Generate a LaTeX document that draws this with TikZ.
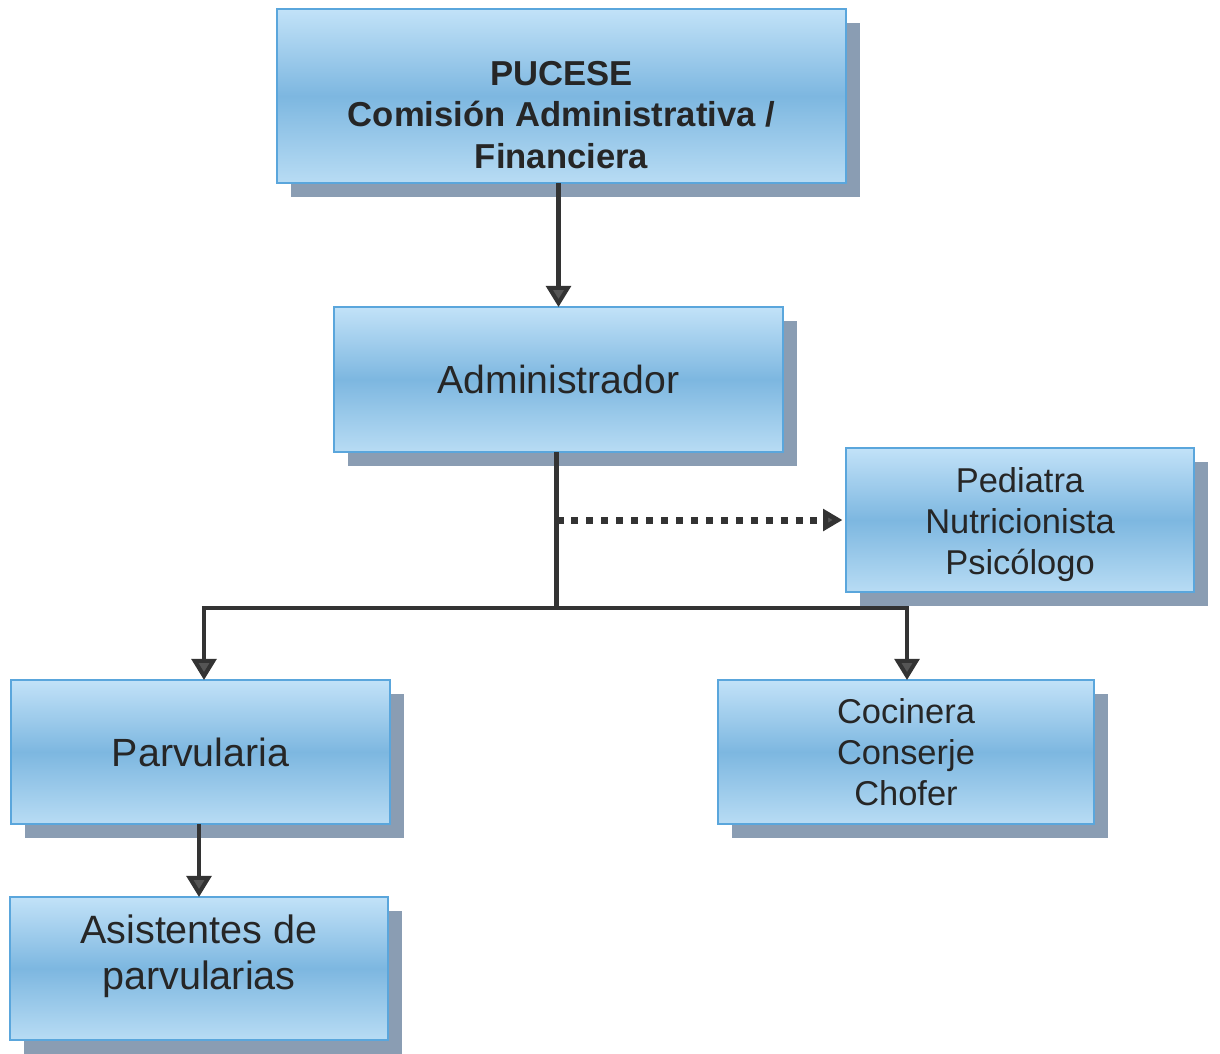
\documentclass[tikz,border=0pt]{standalone}
\usepackage{fontspec}
\setmainfont{Liberation Sans}
\usepackage{tikz}
\usetikzlibrary{shapes, arrows.meta, positioning, calc, shadows}

\definecolor{boxtop}{HTML}{C2E2F8}
\definecolor{boxmid}{HTML}{7DB7E0}
\definecolor{boxbot}{HTML}{B8DCF4}
\definecolor{boxline}{HTML}{5AA6DC}
\definecolor{shadowblue}{HTML}{8A9DB3}
\definecolor{linkc}{HTML}{333333}
\definecolor{tipc}{HTML}{555555}
\definecolor{textc}{HTML}{262626}

\tikzset{
    orgbox/.style={rectangle, draw=boxline, line width=1.2pt,
        top color=boxtop, bottom color=boxbot, middle color=boxmid,
        general shadow={shadow xshift=0.28cm, shadow yshift=-0.28cm, fill=shadowblue},
        text=textc, align=center, inner sep=0pt},
    boxtext/.style={text=textc, align=center, inner sep=0pt},
    link/.style={draw=linkc, line width=2.3pt,
        -{Triangle[width=14pt, length=12pt, fill=tipc]}},
    plainlink/.style={draw=linkc, line width=2.3pt},
    dotlink/.style={draw=linkc, line width=4pt, dash pattern=on 4pt off 4.5pt,
        -{Triangle[width=12pt, length=11pt, fill=tipc]}}
}

\begin{document}
\begin{tikzpicture}[every node/.style={outer sep=0pt}]
    \useasboundingbox (0,0) rectangle (24.4,-21.06);

    % Boxes
    \node[orgbox, minimum width=11.38cm, minimum height=3.48cm,
        label={[boxtext, yshift=-0.38cm, font=\bfseries\fontsize{19.7}{23.5}\selectfont]center:PUCESE\\Comisión Administrativa /\\Financiera}]
        (pucese) at (11.23,-1.92) {};
    \node[orgbox, minimum width=8.98cm, minimum height=2.9cm,
        font=\fontsize{22.3}{26}\selectfont] (admin) at (11.17,-7.59) {Administrador};
    \node[orgbox, minimum width=6.96cm, minimum height=2.88cm,
        label={[boxtext, yshift=-0.09cm, font=\fontsize{19.6}{23.3}\selectfont]center:Pediatra\\Nutricionista\\Psicólogo}]
        (salud) at (20.4,-10.4) {};
    \node[orgbox, minimum width=7.58cm, minimum height=2.88cm,
        font=\fontsize{22.4}{26}\selectfont] (parv) at (4.01,-15.04) {Parvularia};
    \node[orgbox, minimum width=7.52cm, minimum height=2.88cm,
        font=\fontsize{19.6}{23.3}\selectfont] (servicio) at (18.12,-15.04)
        {Cocinera\\Conserje\\Chofer};
    \node[orgbox, minimum width=7.56cm, minimum height=2.86cm,
        label={[boxtext, yshift=0.24cm, font=\fontsize{22.5}{26}\selectfont]center:Asistentes de\\parvularias}]
        (asist) at (3.98,-19.37) {};

    % Junction points
    \coordinate (split) at ($(admin.south)+(-0.04,-3.12)$);
    \coordinate (dotstart) at (split |- salud.west);
    \coordinate (leftdrop) at ([xshift=0.07cm]parv.north |- split);
    \coordinate (rightdrop) at ([xshift=0.02cm]servicio.north |- split);

    % Connectors
    \draw[link] (admin.north |- pucese.south) -- (admin.north);
    \draw[plainlink] ($(admin.south)+(-0.04,0)$) -- (split);
    \draw[plainlink] ([xshift=-1.15pt]leftdrop) -- ([xshift=1.15pt]rightdrop);
    \draw[link] (leftdrop) -- (leftdrop |- parv.north);
    \draw[link] (rightdrop) -- (rightdrop |- servicio.north);
    \draw[dotlink] (dotstart) -- ([xshift=-2pt]salud.west);
    \draw[link] (parv.south -| asist.north) -- (asist.north);
\end{tikzpicture}
\end{document}
